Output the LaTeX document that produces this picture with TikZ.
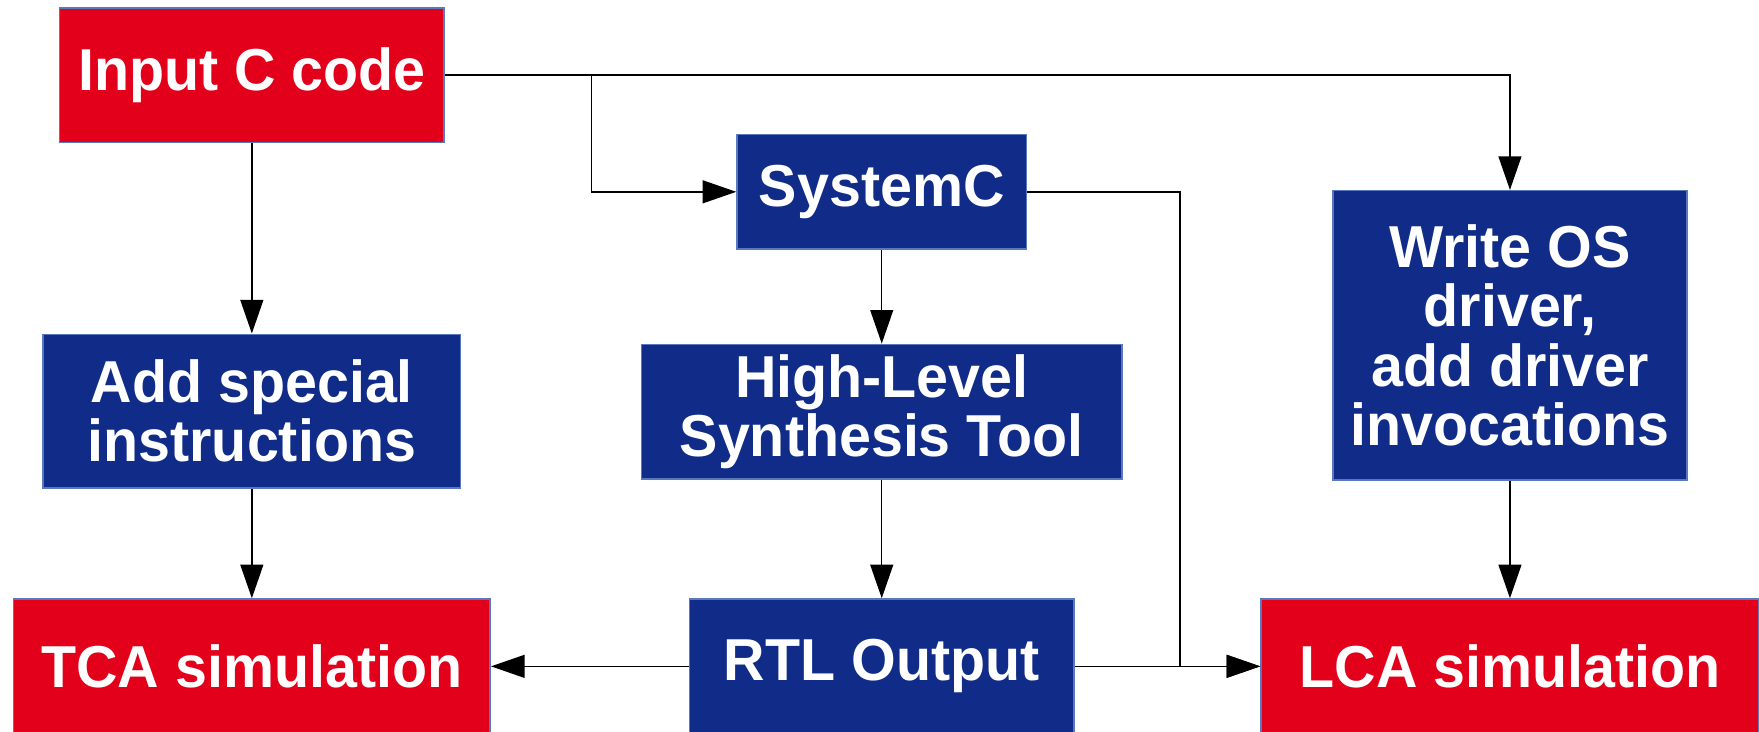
\documentclass[tikz,border=0pt]{standalone}
\usepackage{fontspec}
\setmainfont{Liberation Sans}[FakeStretch=0.97]
\usetikzlibrary{arrows.meta}
\newlength{\du}
\setlength{\du}{0.01cm}
\definecolor{flowred}{RGB}{226,0,26}
\definecolor{flowblue}{RGB}{16,44,136}
\definecolor{flowedge}{RGB}{90,120,190}

\begin{document}
\begin{tikzpicture}[x=\du,y=-\du,
	box/.style={draw=flowedge,line width=0.4pt,inner sep=0pt,align=center,text=white,
		font=\fontsize{15}{15}\selectfont\bfseries},
	redbox/.style={box,fill=flowred},
	bluebox/.style={box,fill=flowblue},
	flow/.style={-{Triangle[length=8.5pt,width=5.8pt]},line width=0.35pt}]
	\clip (0,0) rectangle (1568,652);
	% top row
	\node[redbox,minimum width=343\du,minimum height=120\du] (input) at (224.5,67) {Input C code};
	\node[bluebox,minimum width=258\du,minimum height=102\du] (systemc) at (786,171) {SystemC};
	\node[bluebox,minimum width=316\du,minimum height=258\du] (driver) at (1346,299) {Write OS\\driver,\\add driver\\invocations};
	% middle row
	\node[bluebox,minimum width=372\du,minimum height=137\du] (special) at (224.5,366.5) {Add special\\instructions};
	\node[bluebox,minimum width=428\du,minimum height=120\du] (hls) at (786,367) {High-Level\\Synthesis Tool};
	% bottom row
	\node[redbox,minimum width=425\du,minimum height=120\du] (tca) at (224.5,594) {TCA simulation};
	\node[bluebox,minimum width=343\du,minimum height=120\du] (rtl) at (786,594) {RTL Output};
	\node[redbox,minimum width=444\du,minimum height=120\du] (lca) at (1346,594) {LCA simulation};
	% connectors
	\coordinate (split) at (527,67);
	\coordinate (bend) at (1052,171);
	\draw[flow] (input.east) -| (driver.north);
	\draw[flow] (split) |- (systemc.west);
	\draw[flow] (input.south) -- (special.north);
	\draw[flow] (special.south) -- (tca.north);
	\draw[flow] (systemc.south) -- (hls.north);
	\draw[flow] (hls.south) -- (rtl.north);
	\draw[flow] (driver.south) -- (lca.north);
	\draw[flow] (systemc.east) -- (bend) |- (lca.west);
	\draw[flow] (rtl.east) -- (lca.west);
	\draw[flow] (rtl.west) -- (tca.east);
\end{tikzpicture}
\end{document}
